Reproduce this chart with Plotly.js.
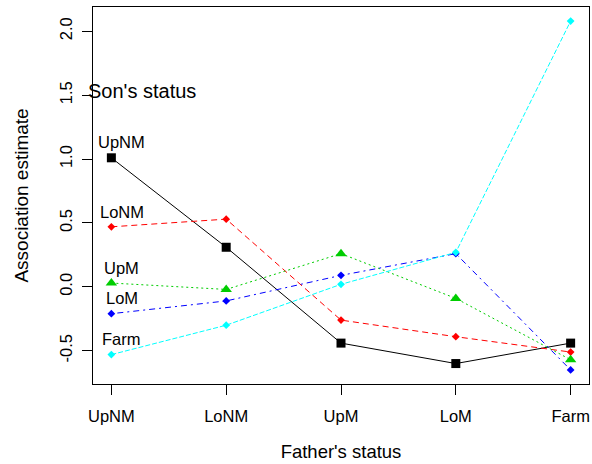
<!DOCTYPE html>
<html>
<head>
<meta charset="utf-8">
<script src="https://cdn.plot.ly/plotly-3.0.1.min.js"></script>
<style>html,body{margin:0;padding:0;background:#fff;}#chart{width:592px;height:464px;}</style>
</head>
<body>
<div id="chart"></div>
<script>
// Father's status categories (x axis)
const fatherStatus = ["UpNM", "LoNM", "UpM", "LoM", "Farm"];
const xPos = [1, 2, 3, 4, 5];
// Son's status series (association estimates)
const sonUpNM = [1.01, 0.31, -0.44, -0.60, -0.44];
const sonLoNM = [0.47, 0.53, -0.26, -0.39, -0.51];
const sonUpM  = [0.03, -0.02, 0.26, -0.09, -0.57];
const sonLoM  = [-0.21, -0.11, 0.09, 0.26, -0.65];
const sonFarm = [-0.53, -0.30, 0.02, 0.27, 2.08];
const seriesNames = ["UpNM", "LoNM", "UpM", "LoM", "Farm"];
const yTicks = [-0.5, 0, 0.5, 1.0, 1.5, 2.0];

const font = "Liberation Sans, Arial, sans-serif";
const styles = [
  {color: "#000000", dash: "solid", symbol: "square", size: 9},
  {color: "#FF0000", dash: "6px,4px", symbol: "diamond", size: 6},
  {color: "#00CD00", dash: "2px,3px", symbol: "triangle-up", size: 10},
  {color: "#0000FF", dash: "2px,4px,6px,4px", symbol: "diamond", size: 6},
  {color: "#00FFFF", dash: "5px,2px", symbol: "diamond", size: 6}
];
const allSeries = [sonUpNM, sonLoNM, sonUpM, sonLoM, sonFarm];

const traces = allSeries.map((ys, i) => ({
  x: xPos, y: ys, type: "scatter", mode: "lines+markers", name: seriesNames[i],
  line: {color: styles[i].color, width: 1, dash: styles[i].dash},
  marker: {color: styles[i].color, symbol: styles[i].symbol, size: styles[i].size, line: {width: 0}},
  showlegend: false
}));

// Series labels at the first point
const labelY = [1.13, 0.585, 0.145, -0.09, -0.41];
const annotations = seriesNames.map((n, i) => ({
  x: 1.09, y: labelY[i], xref: "x", yref: "y", text: n, showarrow: false,
  font: {family: font, size: 16.5, color: "#000"}
}));
annotations.push({
  x: 1.27, y: 1.53, xref: "x", yref: "y", text: "Son's status", showarrow: false,
  font: {family: font, size: 20, color: "#000"}
});

const layout = {
  width: 592, height: 464,
  margin: {l: 93, r: 3, t: 7, b: 80},
  paper_bgcolor: "#fff", plot_bgcolor: "#fff",
  font: {family: font, color: "#000"},
  xaxis: {
    range: [0.84, 5.16], tickmode: "array", tickvals: xPos, ticktext: fatherStatus,
    ticks: "outside", ticklen: 10, tickcolor: "#000", tickwidth: 1,
    showgrid: false, zeroline: false, showline: true, mirror: true, linecolor: "#000", linewidth: 1,
    tickfont: {family: font, size: 16.5}, ticklabelstandoff: 7,
    title: {text: "Father's status", font: {family: font, size: 18.5}, standoff: 21}
  },
  yaxis: {
    range: [-0.76, 2.19], tickmode: "array", tickvals: yTicks,
    ticktext: yTicks.map(v => v.toFixed(1)), tickangle: -90,
    ticks: "outside", ticklen: 10, tickcolor: "#000", tickwidth: 1,
    showgrid: false, zeroline: false, showline: true, mirror: true, linecolor: "#000", linewidth: 1,
    tickfont: {family: font, size: 16.5}, ticklabelstandoff: 3,
    title: {text: "Association estimate", font: {family: font, size: 19}, standoff: 23}
  },
  annotations: annotations
};

Plotly.newPlot("chart", traces, layout, {displayModeBar: false, staticPlot: true});
</script>
</body>
</html>
